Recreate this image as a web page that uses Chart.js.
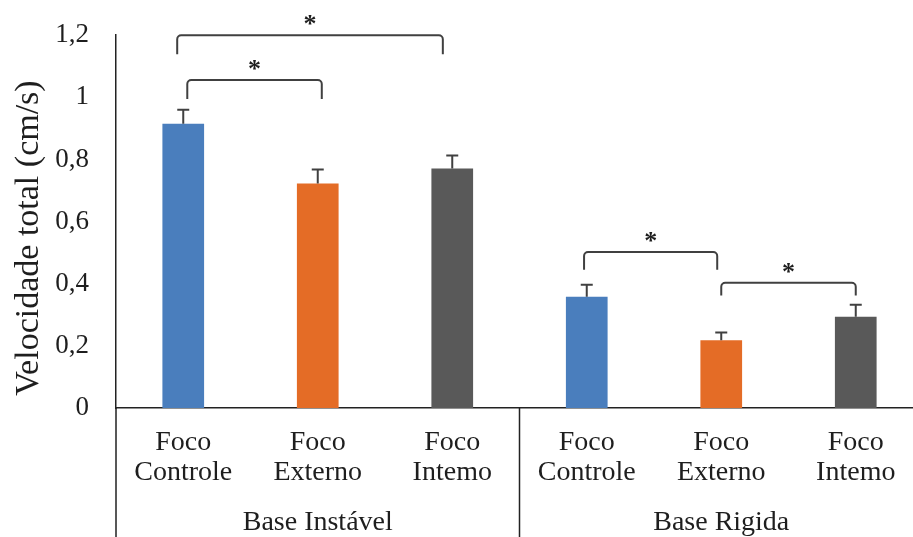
<!DOCTYPE html>
<html>
<head>
<meta charset="utf-8">
<script src="https://cdn.jsdelivr.net/npm/chart.js@4.4.1/dist/chart.umd.min.js"></script>
<style>
    html, body { margin: 0; padding: 0; background: #fff; overflow: hidden; }
    #wrap { width: 923px; height: 537px; position: relative; }
</style>
</head>
<body>
<div id="wrap"><canvas id="myChart"></canvas></div>
<script>
let labels = [['Foco', 'Controle'], ['Foco', 'Externo'], ['Foco', 'Intemo'], ['Foco', 'Controle'], ['Foco', 'Externo'], ['Foco', 'Intemo']];
let groups = ['Base Instável', 'Base Rigida'];
let means = [0.915, 0.723, 0.771, 0.358, 0.218, 0.294];
let errors = [0.045, 0.045, 0.042, 0.039, 0.025, 0.038];
let yTicks = [0, 0.2, 0.4, 0.6, 0.8, 1, 1.2];
let yTitle = 'Velocidade total (cm/s)';

// significance brackets, in category index / value units
let bracketFrom = [-0.045, 0.03, 2.98, 4.0];
let bracketTo = [1.93, 1.03, 3.97, 5.0];
let bracketTop = [1.2, 1.056, 0.502, 0.403];
let bracketLeg = [1.139, 0.995, 0.445, 0.362];

let colors = {
    'blue': '#4a7ebd'
    , 'orange': '#e46c26'
    , 'gray': '#595959'
    , 'line': '#404040'
    , 'text': '#1e1e1e'
}
let serif = "'Liberation Serif', 'Times New Roman', serif";

const errorBars = {
    id: 'errorBars',
    afterDatasetsDraw(chart) {
        let ctx = chart.ctx;
        let y = chart.scales.y;
        let meta = chart.getDatasetMeta(0);
        ctx.save();
        ctx.strokeStyle = colors['line'];
        ctx.lineWidth = 2;
        for (let i = 0; i < meta.data.length; i++) {
            let bar = meta.data[i];
            let top = y.getPixelForValue(means[i] + errors[i]);
            ctx.beginPath();
            ctx.moveTo(bar.x, bar.y);
            ctx.lineTo(bar.x, top);
            ctx.moveTo(bar.x - 6, top);
            ctx.lineTo(bar.x + 6, top);
            ctx.stroke();
        }
        ctx.restore();
    }
}

const extras = {
    id: 'extras',
    afterDraw(chart) {
        let ctx = chart.ctx;
        let x = chart.scales.x;
        let y = chart.scales.y;
        let area = chart.chartArea;
        let h = chart.height;
        let step = x.getPixelForValue(1) - x.getPixelForValue(0);
        ctx.save();

        // brackets + asterisks
        for (let i = 0; i < bracketFrom.length; i++) {
            let x1 = x.getPixelForValue(0) + bracketFrom[i] * step;
            let x2 = x.getPixelForValue(0) + bracketTo[i] * step;
            let yt = y.getPixelForValue(bracketTop[i]);
            let yl = y.getPixelForValue(bracketLeg[i]);
            ctx.strokeStyle = colors['line'];
            ctx.lineWidth = 2;
            ctx.beginPath();
            ctx.moveTo(x1, yl);
            ctx.arcTo(x1, yt, x2, yt, 4);
            ctx.arcTo(x2, yt, x2, yl, 4);
            ctx.lineTo(x2, yl);
            ctx.stroke();
            ctx.fillStyle = colors['text'];
            ctx.font = 'bold 26px ' + serif;
            ctx.textAlign = 'center';
            ctx.textBaseline = 'alphabetic';
            ctx.fillText('*', (x1 + x2) / 2, yt - 3);
        }

        // group separators below the axis
        ctx.strokeStyle = '#222';
        ctx.lineWidth = 1.5;
        let mid = (x.getPixelForValue(2) + x.getPixelForValue(3)) / 2;
        ctx.beginPath();
        ctx.moveTo(area.left, area.bottom);
        ctx.lineTo(area.left, h);
        ctx.moveTo(mid, area.bottom);
        ctx.lineTo(mid, h);
        ctx.stroke();

        // group labels
        ctx.fillStyle = colors['text'];
        ctx.font = '28px ' + serif;
        ctx.textAlign = 'center';
        ctx.textBaseline = 'alphabetic';
        ctx.fillText(groups[0], x.getPixelForValue(1), 530);
        ctx.fillText(groups[1], x.getPixelForValue(4), 530);

        // y axis title
        ctx.translate(38, 238);
        ctx.rotate(-Math.PI / 2);
        ctx.font = '34px ' + serif;
        ctx.fillText(yTitle, 0, 0);
        ctx.restore();
    }
}

let ctx = document.getElementById('myChart').getContext('2d');
let myChart = new Chart(ctx, {
    type: 'bar',
    data: {
        labels: labels,
        datasets: [{
            data: means,
            backgroundColor: [colors['blue'], colors['orange'], colors['gray'], colors['blue'], colors['orange'], colors['gray']],
            categoryPercentage: 1,
            barPercentage: 0.31,
        }]
    },
    options: {
        responsive: true,
        maintainAspectRatio: false,
        animation: false,
        layout: { padding: { top: 25, left: 0, right: 0, bottom: 0 } },
        plugins: {
            legend: { display: false },
            tooltip: { enabled: false },
        },
        scales: {
            x: {
                offset: true,
                grid: { display: false },
                border: { color: '#222', width: 1.5 },
                ticks: {
                    color: colors['text'],
                    padding: 12,
                    maxRotation: 0,
                    autoSkip: false,
                    font: { family: serif, size: 28, lineHeight: 1.07 },
                },
                afterFit: (scale) => { scale.height = 129; },
            },
            y: {
                min: 0,
                max: 1.2,
                grid: { display: false },
                border: { color: '#222', width: 1.5 },
                afterBuildTicks: (scale) => { scale.ticks = yTicks.map(v => ({ value: v })); },
                ticks: {
                    color: colors['text'],
                    padding: 19,
                    font: { family: serif, size: 27 },
                    callback: (v) => String(Math.round(v * 10) / 10).replace('.', ','),
                },
                afterFit: (scale) => { scale.width = 116; },
            }
        }
    },
    plugins: [errorBars, extras]
});
</script>
</body>
</html>
